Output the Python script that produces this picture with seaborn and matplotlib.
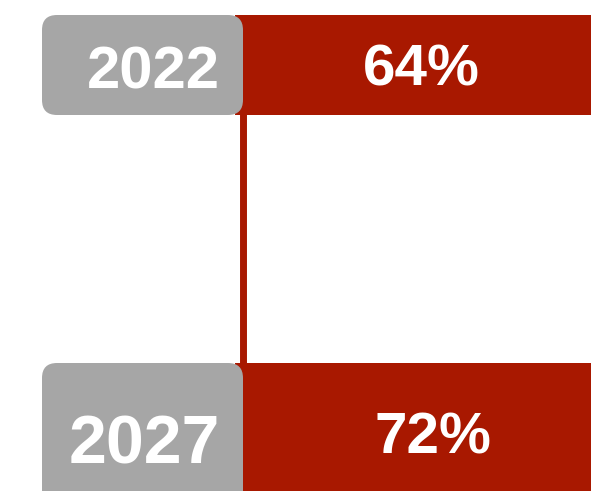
import matplotlib
matplotlib.use("Agg")
import matplotlib.pyplot as plt
from matplotlib.patches import FancyBboxPatch
import seaborn as sns

# data
years = ["2022", "2027"]
shares = [64, 72]

# colours
RED = "#A81800"
GREY = "#A6A6A6"

sns.set_style("white")
plt.rcParams["font.family"] = ["Liberation Sans", "DejaVu Sans"]

fig = plt.figure(figsize=(5.91, 4.91), dpi=100)
ax = fig.add_axes([0, 0, 1, 1])

# scale: pixels per percentage point, bars start at pixel 235
px_per_pct = 5.7
x0_px = 235
x_left = -x0_px / px_per_pct
x_right = (591 - x0_px) / px_per_pct

# vertical: row centres at 65 px and 437 px
px_per_row = 437 - 65
y_top = -65 / px_per_row
y_bot = 1 + (491 - 437) / px_per_row

sns.barplot(x=shares, y=years, orient="h", color=RED, saturation=1,
            ax=ax, zorder=2)

# the two rows have different heights in the original
row_h_px = [100, 148]
for i, p in enumerate(ax.patches):
    h = row_h_px[i] / px_per_row
    p.set_y(i - h / 2)
    p.set_height(h)
    p.set_edgecolor("none")

# connector line between the two rows
line_x = (243 - x0_px) / px_per_pct
ax.plot([line_x, line_x], [0, 1], color=RED, lw=5, zorder=1,
        solid_capstyle="butt")

# grey year boxes with rounded corners
box_l = (42 - x0_px) / px_per_pct
box_r = (243 - x0_px) / px_per_pct
rad = 15 / px_per_pct
aspect = px_per_pct / px_per_row
for i, yr in enumerate(years):
    h = row_h_px[i] / px_per_row
    ax.add_patch(FancyBboxPatch((box_l, i - h / 2), box_r - box_l, h,
                                boxstyle=f"round,pad=0,rounding_size={rad}",
                                mutation_aspect=aspect, fc=GREY, ec="none",
                                zorder=3))

# year labels (right aligned in the grey box)
year_sizes = [43, 49]
year_dy = [2 / px_per_row, 2 / px_per_row]
for i, yr in enumerate(years):
    ax.text((220 - x0_px) / px_per_pct, i + year_dy[i], yr, ha="right",
            va="center_baseline", color="white", fontsize=year_sizes[i],
            fontweight="bold", zorder=4)

# share labels in the red bars
pct_dx = [0.6, -1.2]
pct_dy = [0, -4 / px_per_row]
for i, v in enumerate(shares):
    ax.text(v / 2 + pct_dx[i], i + pct_dy[i], f"{v}%", ha="center",
            va="center_baseline", color="white", fontsize=42,
            fontweight="bold", zorder=4)

ax.set_xlim(x_left, x_right)
ax.set_ylim(y_bot, y_top)
ax.axis("off")

fig.savefig("out.png", dpi=100)
